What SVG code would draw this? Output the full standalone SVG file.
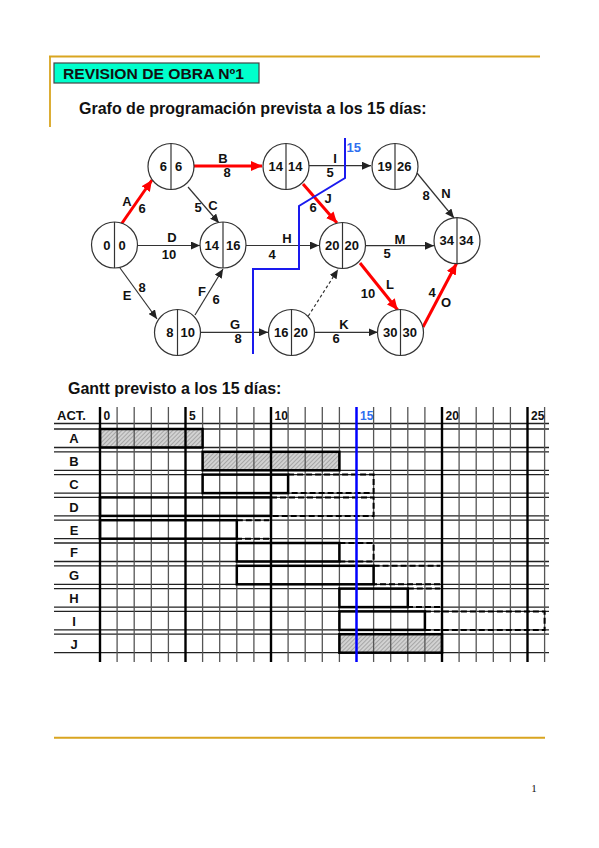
<svg xmlns="http://www.w3.org/2000/svg" width="599" height="848" viewBox="0 0 599 848">
<style>
text{font-family:"Liberation Sans",Arial,sans-serif;font-weight:bold;fill:#111}
.nc{fill:#fff;stroke:#333;stroke-width:1.2}
.nd{stroke:#333;stroke-width:1.2}
.nt{font-size:13px}
.lb{font-size:13px;text-anchor:middle}
.e{stroke:#333;stroke-width:1.2;fill:none;marker-end:url(#ah)}
.cr{stroke:#f00;stroke-width:3;fill:none;marker-end:url(#ahr)}
.hl{stroke:#222;stroke-width:1.3}
.vt{stroke:#555;stroke-width:1.3}
.vk{stroke:#000;stroke-width:2.4}
.bar{fill:none;stroke:#000;stroke-width:2.5}
.dsh{fill:none;stroke:#000;stroke-width:2;stroke-dasharray:6,3}
.hat{fill:url(#hatch)}
.rl{font-size:13px;text-anchor:middle}
.dn{font-size:12px}
.gold{stroke:#D9A520;fill:none}
</style>
<defs>
<marker id="ah" markerUnits="userSpaceOnUse" markerWidth="9" markerHeight="8" refX="9" refY="4" orient="auto"><path d="M0,0 L9,4 L0,8 z" fill="#222"/></marker>
<marker id="ahr" markerUnits="userSpaceOnUse" markerWidth="11" markerHeight="10" refX="11" refY="5" orient="auto"><path d="M0,0 L11,5 L0,10 z" fill="#f00"/></marker>
<pattern id="hatch" patternUnits="userSpaceOnUse" width="3" height="3" patternTransform="rotate(45)"><rect width="3" height="3" fill="#d2d2d2"/><line x1="0" y1="0" x2="0" y2="3" stroke="#7a7a7a" stroke-width="1"/></pattern>
</defs>
<rect width="599" height="848" fill="#fff"/>

<!-- header -->
<g id="header">
<line class="gold" x1="49" y1="56.5" x2="540" y2="56.5" stroke-width="1.8"/>
<line class="gold" x1="50" y1="56" x2="50" y2="127" stroke-width="1.8"/>
<rect x="54" y="63" width="205" height="20" fill="#00FFCC" stroke="#444" stroke-width="1.2"/>
<text x="63" y="79" font-size="14.5" textLength="181" lengthAdjust="spacingAndGlyphs">REVISION DE OBRA Nº1</text>
<text x="79" y="114" font-size="16">Grafo de programación prevista a los 15 días:</text>
</g>

<!-- connectors -->
<g id="connectors">
<line class="cr" x1="120" y1="226" x2="152" y2="180"/>
<line class="cr" x1="194" y1="166" x2="262" y2="166"/>
<line class="e" x1="188" y1="187" x2="219" y2="223"/>
<line class="e" x1="137" y1="245.5" x2="200" y2="245.5"/>
<line class="e" x1="120" y1="268" x2="157" y2="319"/>
<line class="e" x1="195" y1="315" x2="223" y2="269"/>
<line class="e" x1="201" y1="332.3" x2="268" y2="332.3"/>
<line class="e" x1="246" y1="245.5" x2="319" y2="245.5"/>
<line class="e" x1="309" y1="165.7" x2="371" y2="165.7"/>
<line class="cr" x1="303" y1="184" x2="337" y2="223"/>
<line class="e" x1="417" y1="173" x2="454" y2="218"/>
<line class="e" x1="366" y1="245.7" x2="434" y2="245.7"/>
<line class="cr" x1="360" y1="263" x2="397.7" y2="310"/>
<line class="cr" x1="423" y1="327" x2="456.5" y2="263.5"/>
<line class="e" x1="315" y1="332.3" x2="377.7" y2="332.3"/>
<line class="e" x1="308.3" y1="316" x2="338" y2="269.5" stroke-dasharray="3,2.5"/>
<g id="edge-labels">
<text class="lb" x="127" y="205.7">A</text><text class="lb" x="142" y="212.7">6</text>
<text class="lb" x="223" y="162.7">B</text><text class="lb" x="227" y="176.7">8</text>
<text class="lb" x="213" y="209.7">C</text><text class="lb" x="198" y="211.7">5</text>
<text class="lb" x="172" y="241.7">D</text><text class="lb" x="169" y="258.7">10</text>
<text class="lb" x="127" y="299.7">E</text><text class="lb" x="142" y="291.7">8</text>
<text class="lb" x="202" y="295.7">F</text><text class="lb" x="216" y="303.7">6</text>
<text class="lb" x="235" y="328.7">G</text><text class="lb" x="238" y="343">8</text>
<text class="lb" x="287" y="242.7">H</text><text class="lb" x="272" y="258.7">4</text>
<text class="lb" x="335" y="162.7">I</text><text class="lb" x="330" y="176.7">5</text>
<text class="lb" x="328" y="202.7">J</text><text class="lb" x="313" y="211.7">6</text>
<text class="lb" x="400" y="243.7">M</text><text class="lb" x="387" y="257.7">5</text>
<text class="lb" x="446" y="197.7">N</text><text class="lb" x="426" y="199.7">8</text>
<text class="lb" x="390" y="288.7">L</text><text class="lb" x="368" y="297.7">10</text>
<text class="lb" x="446" y="306.7">O</text><text class="lb" x="432" y="296.7">4</text>
<text class="lb" x="344" y="328.7">K</text><text class="lb" x="336" y="343">6</text>
</g>
</g>

<!-- nodes -->
<g id="node-0-0"><circle class="nc" cx="114.5" cy="245" r="23"/><line class="nd" x1="114.5" y1="222" x2="114.5" y2="268"/><text class="nt" x="110.5" y="249.7" text-anchor="end">0</text><text class="nt" x="118.5" y="249.7">0</text></g>
<g id="node-6-6"><circle class="nc" cx="171" cy="166.5" r="23"/><line class="nd" x1="171" y1="143.5" x2="171" y2="189.5"/><text class="nt" x="167" y="171.2" text-anchor="end">6</text><text class="nt" x="175" y="171.2">6</text></g>
<g id="node-14-16"><circle class="nc" cx="223" cy="245" r="23"/><line class="nd" x1="223" y1="222" x2="223" y2="268"/><text class="nt" x="219" y="249.7" text-anchor="end">14</text><text class="nt" x="226" y="249.7">16</text></g>
<g id="node-8-10"><circle class="nc" cx="177.5" cy="332.5" r="23"/><line class="nd" x1="177.5" y1="309.5" x2="177.5" y2="355.5"/><text class="nt" x="173.5" y="337.2" text-anchor="end">8</text><text class="nt" x="180.5" y="337.2">10</text></g>
<g id="node-14-14"><circle class="nc" cx="286" cy="166.5" r="23"/><line class="nd" x1="286" y1="143.5" x2="286" y2="189.5"/><text class="nt" x="283" y="171.2" text-anchor="end">14</text><text class="nt" x="288" y="171.2">14</text></g>
<g id="node-19-26"><circle class="nc" cx="395" cy="166.5" r="23"/><line class="nd" x1="395" y1="143.5" x2="395" y2="189.5"/><text class="nt" x="392" y="171.2" text-anchor="end">19</text><text class="nt" x="397" y="171.2">26</text></g>
<g id="node-20-20"><circle class="nc" cx="342.5" cy="245.5" r="23"/><line class="nd" x1="342.5" y1="222.5" x2="342.5" y2="268.5"/><text class="nt" x="339.5" y="250.2" text-anchor="end">20</text><text class="nt" x="344.5" y="250.2">20</text></g>
<g id="node-34-34"><circle class="nc" cx="457" cy="240.7" r="23"/><line class="nd" x1="457" y1="217.7" x2="457" y2="263.7"/><text class="nt" x="454" y="245.4" text-anchor="end">34</text><text class="nt" x="459" y="245.4">34</text></g>
<g id="node-16-20"><circle class="nc" cx="291.5" cy="332.5" r="23"/><line class="nd" x1="291.5" y1="309.5" x2="291.5" y2="355.5"/><text class="nt" x="288.5" y="337.2" text-anchor="end">16</text><text class="nt" x="293.5" y="337.2">20</text></g>
<g id="node-30-30"><circle class="nc" cx="400.5" cy="332.5" r="23"/><line class="nd" x1="400.5" y1="309.5" x2="400.5" y2="355.5"/><text class="nt" x="397.5" y="337.2" text-anchor="end">30</text><text class="nt" x="402.5" y="337.2">30</text></g>

<!-- 15-day cut line on graph -->
<g id="cutline">
<polyline points="345,138 345,178 299,206 299,269 253,269 253,354" fill="none" stroke="#1a1aee" stroke-width="2"/>
<text x="346.5" y="152" font-size="13" style="fill:#2F6FF0">15</text>
</g>

<!-- Gantt -->
<g id="gantt">
<text x="68" y="394" font-size="16">Gantt previsto a los 15 días:</text>
<g id="hatched-fills">
<rect class="hat" x="100" y="429" width="102.6" height="18.5"/>
<rect class="hat" x="202.6" y="451.8" width="136.8" height="18.5"/>
<rect class="hat" x="339.4" y="634.2" width="102.6" height="18.5"/>
</g>
<g id="grid">
<line class="hl" x1="54" y1="423.5" x2="549" y2="423.5"/>
<line class="hl" x1="54" y1="429" x2="549" y2="429"/><line class="hl" x1="54" y1="447.5" x2="549" y2="447.5"/>
<line class="hl" x1="54" y1="451.8" x2="549" y2="451.8"/><line class="hl" x1="54" y1="470.3" x2="549" y2="470.3"/>
<line class="hl" x1="54" y1="474.6" x2="549" y2="474.6"/><line class="hl" x1="54" y1="493.1" x2="549" y2="493.1"/>
<line class="hl" x1="54" y1="497.4" x2="549" y2="497.4"/><line class="hl" x1="54" y1="515.9" x2="549" y2="515.9"/>
<line class="hl" x1="54" y1="520.2" x2="549" y2="520.2"/><line class="hl" x1="54" y1="538.7" x2="549" y2="538.7"/>
<line class="hl" x1="54" y1="543" x2="549" y2="543"/><line class="hl" x1="54" y1="561.5" x2="549" y2="561.5"/>
<line class="hl" x1="54" y1="565.8" x2="549" y2="565.8"/><line class="hl" x1="54" y1="584.3" x2="549" y2="584.3"/>
<line class="hl" x1="54" y1="588.6" x2="549" y2="588.6"/><line class="hl" x1="54" y1="607.1" x2="549" y2="607.1"/>
<line class="hl" x1="54" y1="611.4" x2="549" y2="611.4"/><line class="hl" x1="54" y1="629.9" x2="549" y2="629.9"/>
<line class="hl" x1="54" y1="634.2" x2="549" y2="634.2"/><line class="hl" x1="54" y1="652.7" x2="549" y2="652.7"/>
<line class="vt" x1="117.1" y1="407" x2="117.1" y2="662"/>
<line class="vt" x1="134.2" y1="407" x2="134.2" y2="662"/>
<line class="vt" x1="151.3" y1="407" x2="151.3" y2="662"/>
<line class="vt" x1="168.4" y1="407" x2="168.4" y2="662"/>
<line class="vt" x1="202.6" y1="407" x2="202.6" y2="662"/>
<line class="vt" x1="219.7" y1="407" x2="219.7" y2="662"/>
<line class="vt" x1="236.8" y1="407" x2="236.8" y2="662"/>
<line class="vt" x1="253.9" y1="407" x2="253.9" y2="662"/>
<line class="vt" x1="288.1" y1="407" x2="288.1" y2="662"/>
<line class="vt" x1="305.2" y1="407" x2="305.2" y2="662"/>
<line class="vt" x1="322.3" y1="407" x2="322.3" y2="662"/>
<line class="vt" x1="339.4" y1="407" x2="339.4" y2="662"/>
<line class="vt" x1="373.6" y1="407" x2="373.6" y2="662"/>
<line class="vt" x1="390.7" y1="407" x2="390.7" y2="662"/>
<line class="vt" x1="407.8" y1="407" x2="407.8" y2="662"/>
<line class="vt" x1="424.9" y1="407" x2="424.9" y2="662"/>
<line class="vt" x1="459.1" y1="407" x2="459.1" y2="662"/>
<line class="vt" x1="476.2" y1="407" x2="476.2" y2="662"/>
<line class="vt" x1="493.3" y1="407" x2="493.3" y2="662"/>
<line class="vt" x1="510.4" y1="407" x2="510.4" y2="662"/>
<line class="vt" x1="544.6" y1="407" x2="544.6" y2="662"/>
<line class="vk" x1="100" y1="407" x2="100" y2="662"/>
<line class="vk" x1="185.5" y1="407" x2="185.5" y2="662"/>
<line class="vk" x1="271" y1="407" x2="271" y2="662"/>
<line class="vk" x1="442" y1="407" x2="442" y2="662"/>
<line class="vk" x1="527.5" y1="407" x2="527.5" y2="662"/>
</g>
<g id="header-labels">
<text x="57" y="420" font-size="13">ACT.</text>
<text class="dn" x="103.5" y="420">0</text>
<text class="dn" x="189" y="420">5</text>
<text class="dn" x="274.5" y="420">10</text>
<text class="dn" x="360" y="420" style="fill:#2F6FF0">15</text>
<text class="dn" x="445.5" y="420">20</text>
<text class="dn" x="531" y="420">25</text>
</g>
<g id="row-labels">
<text class="rl" x="74" y="443.4">A</text>
<text class="rl" x="74" y="466.2">B</text>
<text class="rl" x="74" y="489">C</text>
<text class="rl" x="74" y="511.8">D</text>
<text class="rl" x="74" y="534.6">E</text>
<text class="rl" x="74" y="557.4">F</text>
<text class="rl" x="74" y="580.2">G</text>
<text class="rl" x="74" y="603">H</text>
<text class="rl" x="74" y="625.8">I</text>
<text class="rl" x="74" y="648.6">J</text>
</g>
<g id="bars">
<rect class="bar" x="100" y="429" width="102.6" height="18.5"/>
<rect class="bar" x="202.6" y="451.8" width="136.8" height="18.5"/>
<rect class="bar" x="202.6" y="474.6" width="85.5" height="18.5"/>
<path class="dsh" d="M288.1,474.6 H373.6 V493.1 H288.1"/>
<rect class="bar" x="100" y="497.4" width="171" height="18.5"/>
<path class="dsh" d="M271,497.4 H373.6 V515.9 H271"/>
<rect class="bar" x="100" y="520.2" width="136.8" height="18.5"/>
<path class="dsh" d="M236.8,520.2 H269 M269,538.7 H236.8"/>
<rect class="bar" x="236.8" y="543" width="102.6" height="18.5"/>
<path class="dsh" d="M339.4,543 H373.6 V561.5 H339.4"/>
<rect class="bar" x="236.8" y="565.8" width="136.8" height="18.5"/>
<path class="dsh" d="M373.6,565.8 H440 M440,584.3 H373.6"/>
<rect class="bar" x="339.4" y="588.6" width="68.4" height="18.5"/>
<path class="dsh" d="M407.8,588.6 H440 M440,607.1 H407.8"/>
<rect class="bar" x="339.4" y="611.4" width="85.5" height="18.5"/>
<path class="dsh" d="M424.9,611.4 H544.6 V629.9 H424.9"/>
<rect class="bar" x="339.4" y="634.2" width="102.6" height="18.5"/>
</g>
<line id="day15" x1="356.5" y1="407" x2="356.5" y2="662" stroke="#0000FF" stroke-width="2.5"/>
</g>

<!-- footer -->
<g id="footer">
<line class="gold" x1="54" y1="737.7" x2="545" y2="737.7" stroke-width="2"/>
<text x="534" y="792" font-size="11" text-anchor="middle" style="font-family:'Liberation Serif','Times New Roman',serif;font-weight:normal">1</text>
</g>
</svg>
